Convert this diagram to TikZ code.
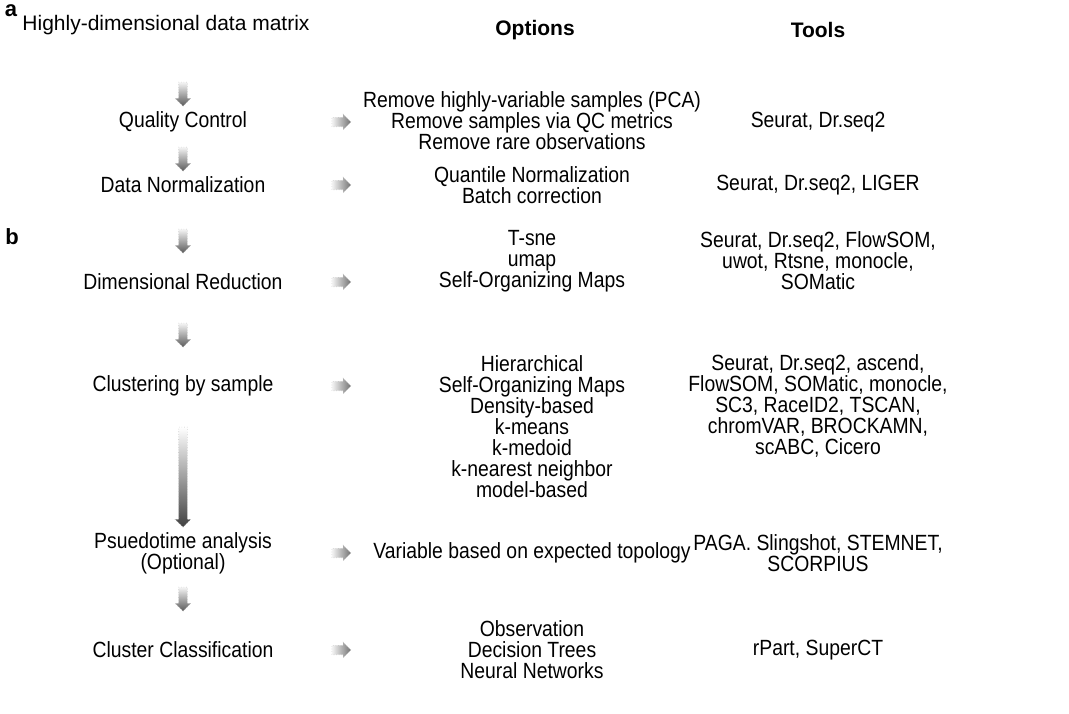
\documentclass[tikz,border=0pt]{standalone}
\usepackage{fontspec}
\setmainfont{Liberation Sans}
\newfontfamily\narrowsans[FakeStretch=0.88]{Liberation Sans}
\usetikzlibrary{shapes.arrows,positioning}

\begin{document}
\begin{tikzpicture}[
    x=0.5pt, y=-0.5pt,
    every node/.style={font=\narrowsans\fontsize{11}{10.5}\selectfont, align=center, inner sep=0pt},
    colhead/.style={font=\fontsize{10.5}{10.5}\selectfont\bfseries},
    panel/.style={font=\fontsize{11}{12}\selectfont\bfseries},
    downarr/.style={single arrow, shape border rotate=270, inner sep=2pt, minimum height=12pt,
        minimum width=7.5pt, single arrow head extend=1.75pt, single arrow head indent=0pt,
        draw=gray!50, densely dotted, line width=0.3pt, top color=gray!8, bottom color=black!65},
    rightarr/.style={single arrow, inner sep=2.2pt, minimum height=9.5pt, minimum width=7.5pt,
        single arrow head extend=1.5pt, draw=gray!50, densely dotted, line width=0.3pt,
        left color=gray!8, right color=black!55}
]
\useasboundingbox (0,0) rectangle (1069,713);

\node[panel] (a) at (11,11) {a};
\node[panel] (b) at (12,237) {b};

\node[font=\fontsize{10.5}{10.5}\selectfont] (matrix) at (166,25) {Highly-dimensional data matrix};
\node[colhead] (options) at (535,30) {Options};
\node[colhead] (tools) at (818,30) {Tools};

\node[downarr] (d1) at (183,92) {};
\node (qc) at (183,122) {Quality Control};
\node[rightarr] (r1) at (339,122) {};
\node (qcopt) at (532,121) {Remove highly-variable samples (PCA)\\Remove samples via QC metrics\\Remove rare observations};
\node (qctool) at (818,122) {Seurat, Dr.seq2};

\node[downarr] (d2) at (183,157) {};
\node (norm) at (183,185) {Data Normalization};
\node[rightarr] (r2) at (339,185) {};
\node (normopt) at (532,185) {Quantile Normalization\\Batch correction};
\node (normtool) at (818,185) {Seurat, Dr.seq2, LIGER};

\node[downarr] (d3) at (183,239) {};
\node (dimred) at (183,282) {Dimensional Reduction};
\node[rightarr] (r3) at (339,282) {};
\node (dimopt) at (532,261) {T-sne\\umap\\Self-Organizing Maps};
\node (dimtool) at (818,261) {Seurat, Dr.seq2, FlowSOM,\\uwot, Rtsne, monocle,\\SOMatic};

\node[downarr] (d4) at (183,333) {};
\node (clust) at (183,386) {Clustering by sample};
\node[rightarr] (r4) at (339,386) {};
\node (clustopt) at (532,427) {Hierarchical\\Self-Organizing Maps\\Density-based\\k-means\\k-medoid\\k-nearest neighbor\\model-based};
\node (clusttool) at (818,406) {Seurat, Dr.seq2, ascend,\\FlowSOM, SOMatic, monocle,\\SC3, RaceID2, TSCAN,\\chromVAR, BROCKAMN,\\scABC, Cicero};

\node[downarr, minimum height=50pt, top color=white, bottom color=black!75] (d5) at (183,475) {};
\node (pseudo) at (183,553) {Psuedotime analysis\\(Optional)};
\node[rightarr] (r5) at (339,553) {};
\node (pseudoopt) at (532,553) {Variable based on expected topology};
\node (pseudotool) at (818,553) {PAGA. Slingshot, STEMNET,\\SCORPIUS};

\node[downarr] (d6) at (183,597) {};
\node (classif) at (183,650) {Cluster Classification};
\node[rightarr] (r6) at (339,650) {};
\node (classopt) at (532,650) {Observation\\Decision Trees\\Neural Networks};
\node (classtool) at (818,650) {rPart, SuperCT};

\end{tikzpicture}
\end{document}
